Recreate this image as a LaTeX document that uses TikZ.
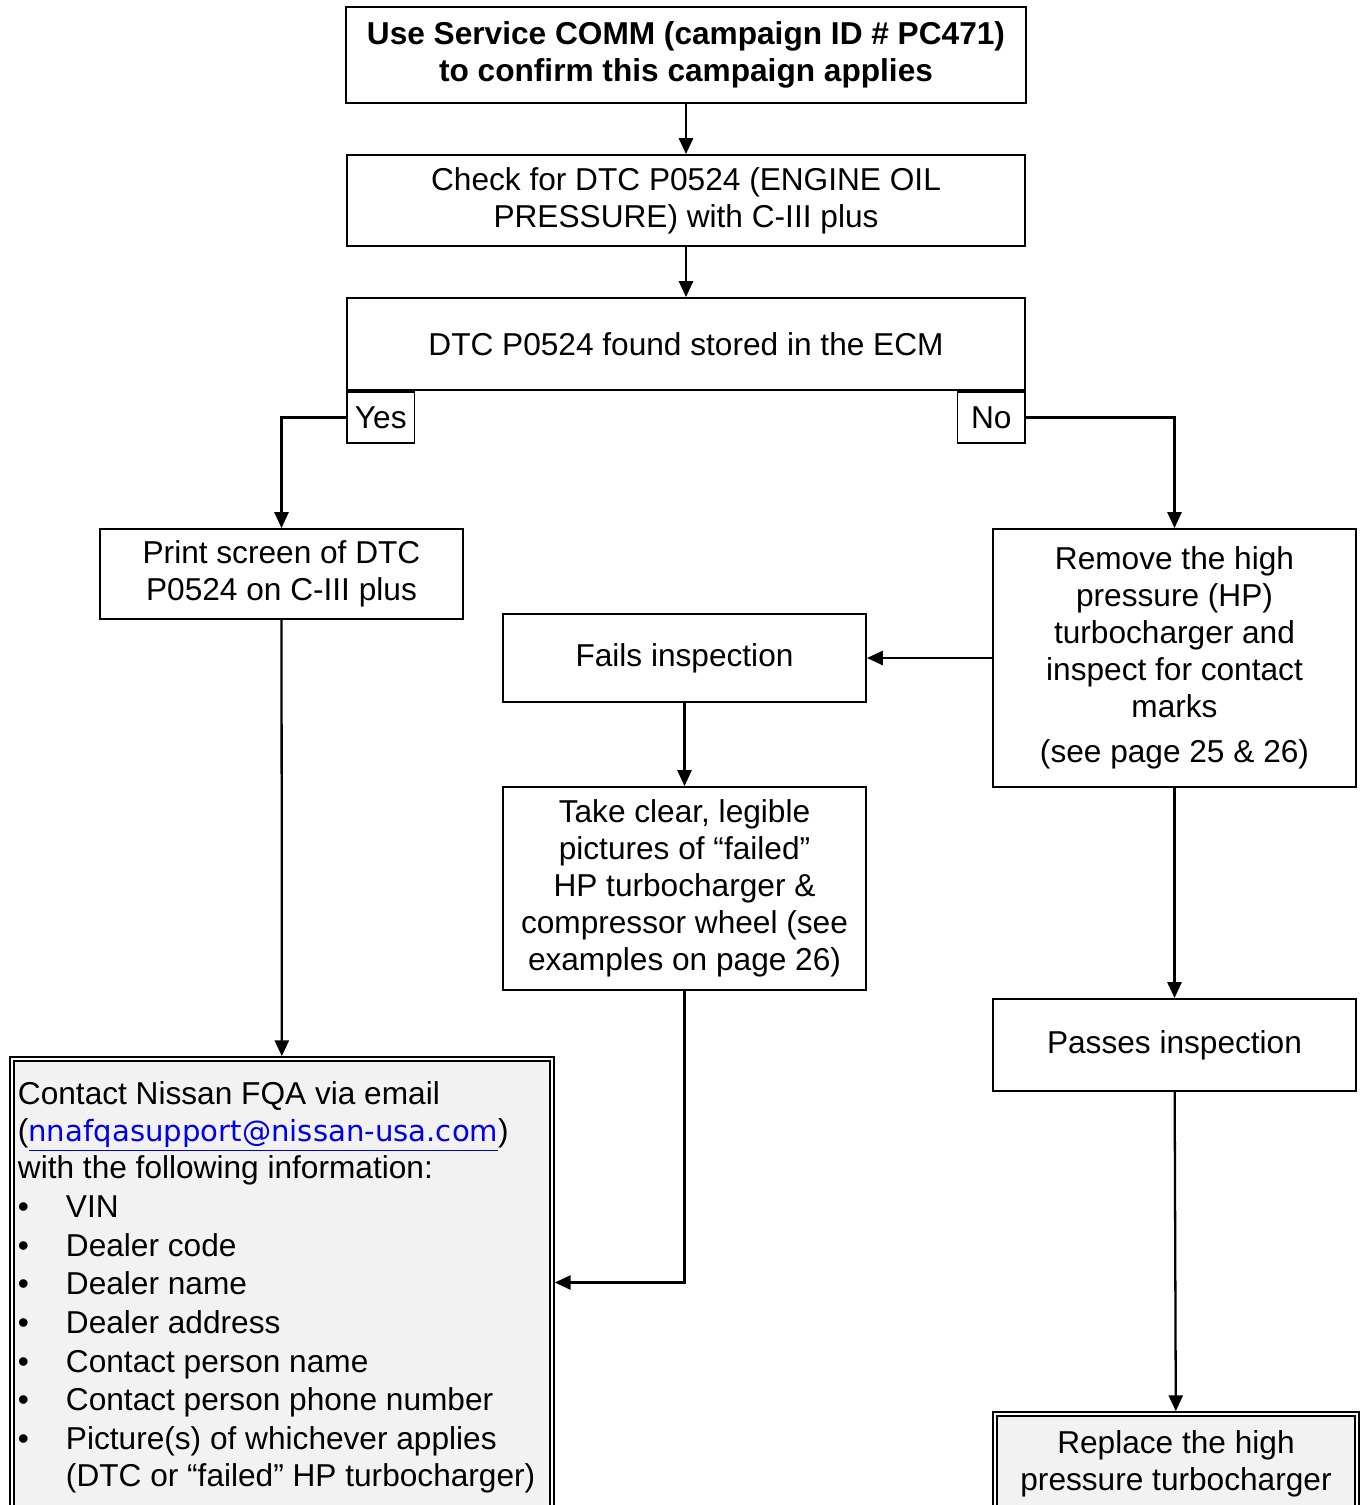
\documentclass[tikz,border=0pt]{standalone}
\usepackage{fontspec}
\setmainfont{Liberation Sans}
\newfontfamily\emailfont{DejaVu Sans}
\usetikzlibrary{positioning,arrows.meta}
\definecolor{linkBlue}{RGB}{0, 0, 238}
\definecolor{bgGray}{RGB}{242, 242, 242}
\newcommand{\bull}{\makebox[0.96cm][l]{\textbullet}}

\begin{document}
\begin{tikzpicture}[>={Triangle[length=9pt,width=8pt]},
  font=\fontsize{18}{21}\selectfont, line width=1.1pt]

  % Page frame (clips the two boxes running off the bottom)
  \useasboundingbox (0,0) rectangle (27.24,-30.10);
  \clip (0,0) rectangle (27.24,-30.10);

  % Helper styles
  \tikzset{
    stepbox/.style={draw, align=center, inner sep=2pt},
    endbox/.style={draw, double=white, double distance=1.4pt,
      line width=0.8pt, outer sep=1.6pt, fill=bgGray, align=center},
    tagbox/.style={draw, inner sep=1pt, minimum width=1.35cm, minimum height=1.02cm},
    infotext/.style={anchor=north west, inner sep=0pt, align=left},
    arr/.style={->, line width=1.3pt}
  }

  % --- Main column ---
  \node[stepbox, font=\fontsize{18}{21}\selectfont\bfseries,
        minimum width=13.6cm, minimum height=1.92cm] (campaign) at (13.72,-1.10)
    {Use Service COMM (campaign ID \# PC471)\\to confirm this campaign applies};

  \node[stepbox, minimum width=13.56cm, minimum height=1.82cm] (check) at (13.72,-4.01)
    {Check for DTC P0524 (ENGINE OIL\\PRESSURE) with C-III plus};

  \node[stepbox, minimum width=13.56cm, minimum height=1.84cm] (found) at (13.72,-6.88)
    {DTC P0524 found stored in the ECM};

  % Yes / No tabs hanging under the decision box
  \node[tagbox, anchor=north west] (yes) at (found.south west) {Yes};
  \node[tagbox, anchor=north east] (no)  at (found.south east) {No};

  % --- Yes branch ---
  \node[stepbox, minimum width=7.26cm, minimum height=1.80cm] (printdtc) at (5.63,-11.48)
    {Print screen of DTC\\P0524 on C-III plus};

  % --- No branch ---
  \node[stepbox, minimum width=7.26cm, minimum height=5.16cm] (remove) at (23.49,-13.16)
    {Remove the high\\pressure (HP)\\turbocharger and\\inspect for contact\\marks\\[5pt](see page 25 \& 26)};

  \node[stepbox, minimum width=7.26cm, minimum height=1.76cm] (fails) at (13.69,-13.16)
    {Fails inspection};

  \node[stepbox, minimum width=7.26cm, minimum height=4.06cm] (pictures) at (13.69,-17.77)
    {Take clear, legible\\pictures of “failed”\\HP turbocharger \&\\compressor wheel (see\\examples on page 26)};

  \node[stepbox, minimum width=7.26cm, minimum height=1.84cm] (passes) at (23.49,-20.90)
    {Passes inspection};

  % --- End boxes ---
  \node[endbox, minimum width=7.24cm, minimum height=1.98cm] (replace) at (23.52,-29.27)
    {Replace the high\\pressure turbocharger};

  \node[endbox, minimum width=10.80cm, minimum height=9.42cm] (contact) at (5.64,-25.89) {};
  \node[infotext] (contacttext) at (0.34,-21.62)
    {Contact Nissan FQA via email\\
     ({\emailfont\fontsize{16.6}{21}\selectfont\color{linkBlue}\underline{nnafqasupport@nissan-usa.com}})\\
     with the following information:\\[1pt]
     \bull VIN\\[1pt]
     \bull Dealer code\\[1pt]
     \bull Dealer name\\[1pt]
     \bull Dealer address\\[1pt]
     \bull Contact person name\\[1pt]
     \bull Contact person phone number\\[1pt]
     \bull Picture(s) of whichever applies\\
     \hspace*{0.96cm}(DTC or “failed” HP turbocharger)};

  % --- Connectors ---
  \draw[arr] (campaign) -- (check);
  \draw[arr] (check) -- (found);
  \draw[arr] (yes.west) -| (printdtc.north);
  \draw[arr] (no.east) -| (remove.north);
  \draw[arr] (remove.west) -- (fails.east);
  \draw[arr] (fails) -- (pictures);
  \draw[arr] (remove) -- (passes);
  \draw[arr] (passes) -- (replace);
  \draw[arr] (printdtc) -- (contact);
  \draw[arr] (pictures.south) |- ([yshift=0.24cm]contact.east);

\end{tikzpicture}
\end{document}
